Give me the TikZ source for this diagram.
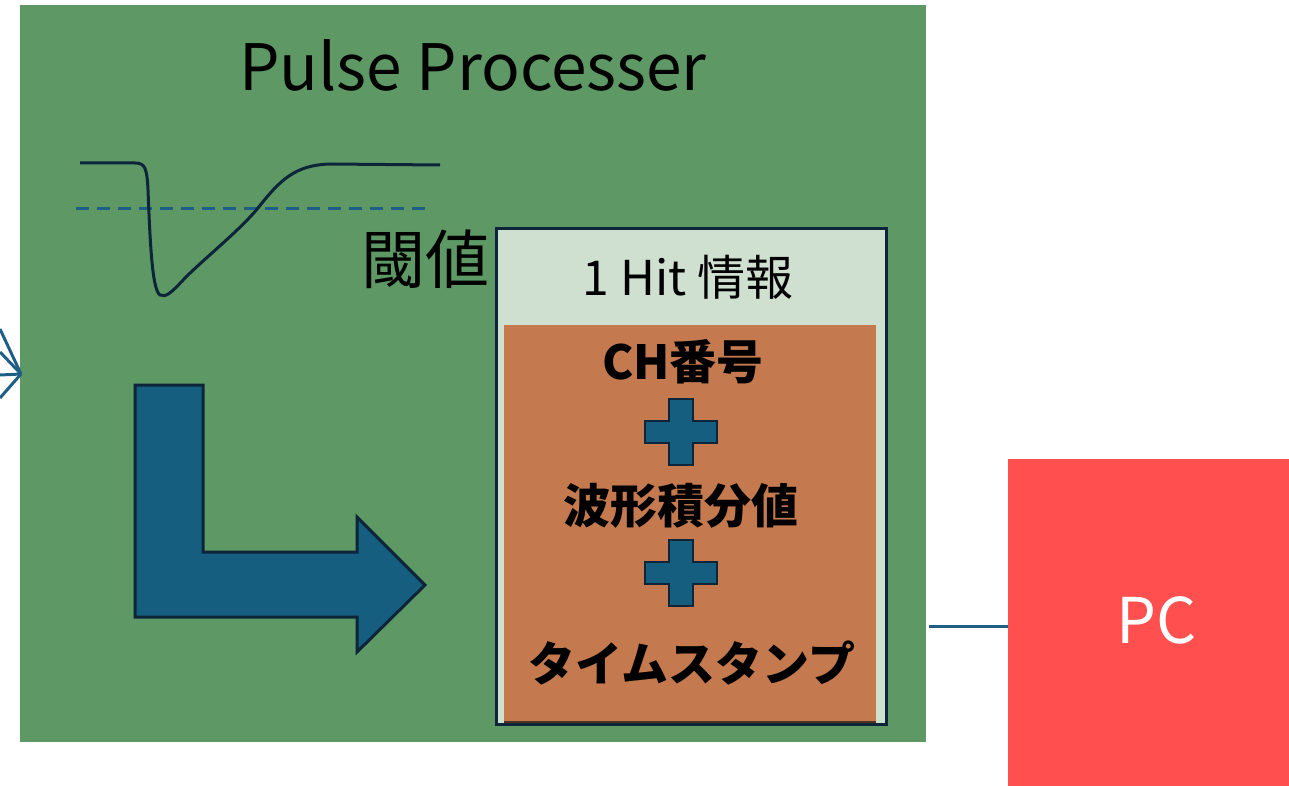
\documentclass[tikz,border=0pt]{standalone}
\usepackage{fontspec}
\setmainfont{Noto Sans CJK JP}
\definecolor{pgreen}{HTML}{5E9865}
\definecolor{navy}{HTML}{0D2538}
\definecolor{pblue}{HTML}{165E80}
\definecolor{lblue}{HTML}{1F5F85}
\definecolor{pale}{HTML}{CFE0D1}
\definecolor{orng}{HTML}{C47A4E}
\definecolor{pcred}{HTML}{FF4F4F}
\tikzset{
  box/.style={rectangle, inner sep=0pt, outer sep=0pt, anchor=north west},
  link/.style={draw=lblue, line width=3pt},
  wave/.style={draw=navy, line width=3pt, line join=round},
  shapeblue/.style={fill=pblue, draw=navy, line width=3pt, line join=miter},
  lbl/.style={inner sep=0pt, text=black},
  bold47/.style={lbl, font=\fontsize{47}{52}\selectfont\bfseries}
}
\begin{document}
\begin{tikzpicture}[x=1pt,y=-1pt]
\useasboundingbox (0,0) rectangle (1289,786);
% processor block
\node[box, fill=pgreen, minimum width=906pt, minimum height=737pt] (proc) at (20,5) {};
\node[lbl, anchor=base, font=\fontsize{64}{70}\selectfont] (title) at (473,91) {Pulse Processer};
% incoming arrow lines
\coordinate (tip) at (21,374);
\draw[link] (0,329) -- (tip);
\draw[link] (0,352) -- (tip);
\draw[link] (0,375) -- (tip);
\draw[link] (0,398) -- (tip);
% threshold and waveform
\draw[draw=lblue, line width=3pt, dash pattern=on 13pt off 8pt] (76,209) -- (428,209);
\draw[wave] (80,163) -- (135,163) .. controls (145,163) and (147,168) .. (148,190)
  .. controls (150,240) and (152,290) .. (160,295)
  .. controls (166,298) and (172,292) .. (185,278)
  .. controls (205,258) and (240,230) .. (258,208)
  .. controls (280,180) and (295,165) .. (330,164) -- (440,165);
\node[lbl, font=\fontsize{64}{70}\selectfont] (thr) at (425,259) {閾値};
% L arrow
\draw[shapeblue] (135,385) -- (203,385) -- (203,552) -- (357,552) -- (357,517) -- (425,585)
  -- (357,652) -- (357,617) -- (135,617) -- cycle;
% info box
\node[box, fill=pale, draw=navy, line width=3pt, minimum width=390pt, minimum height=495pt] (info) at (496,229) {};
\node[lbl, anchor=base, font=\fontsize{48}{54}\selectfont] (hit) at (688,295) {1 Hit 情報};
\node[box, fill=orng, minimum width=372pt, minimum height=397pt] (data) at (504,325) {};
\draw[draw=black!60!orng, line width=1.5pt] (504,722) -- (876,722);
\node[bold47, anchor=base] (ch) at (683,379) {CH番号};
\node[bold47] (integ) at (681,506) {波形積分値};
\node[bold47] (ts) at (692,663) {タイムスタンプ};
\foreach \cy in {432,573}{
  \draw[shapeblue, line width=2.5pt, shift={(681,\cy)}] (-12,-33) -- (12,-33) -- (12,-11) -- (36,-11) -- (36,11)
    -- (12,11) -- (12,33) -- (-12,33) -- (-12,11) -- (-36,11) -- (-36,-11) -- (-12,-11) -- cycle;
}
% PC
\node[box, fill=pcred, minimum width=281pt, minimum height=334pt] (pc) at (1008,459) {};
\node[lbl, anchor=base, text=white, font=\fontsize{63}{70}\selectfont] (pclbl) at (1157,643) {PC};
\draw[link] (929,626) -- (pc.west |- 0,626);
\end{tikzpicture}
\end{document}
